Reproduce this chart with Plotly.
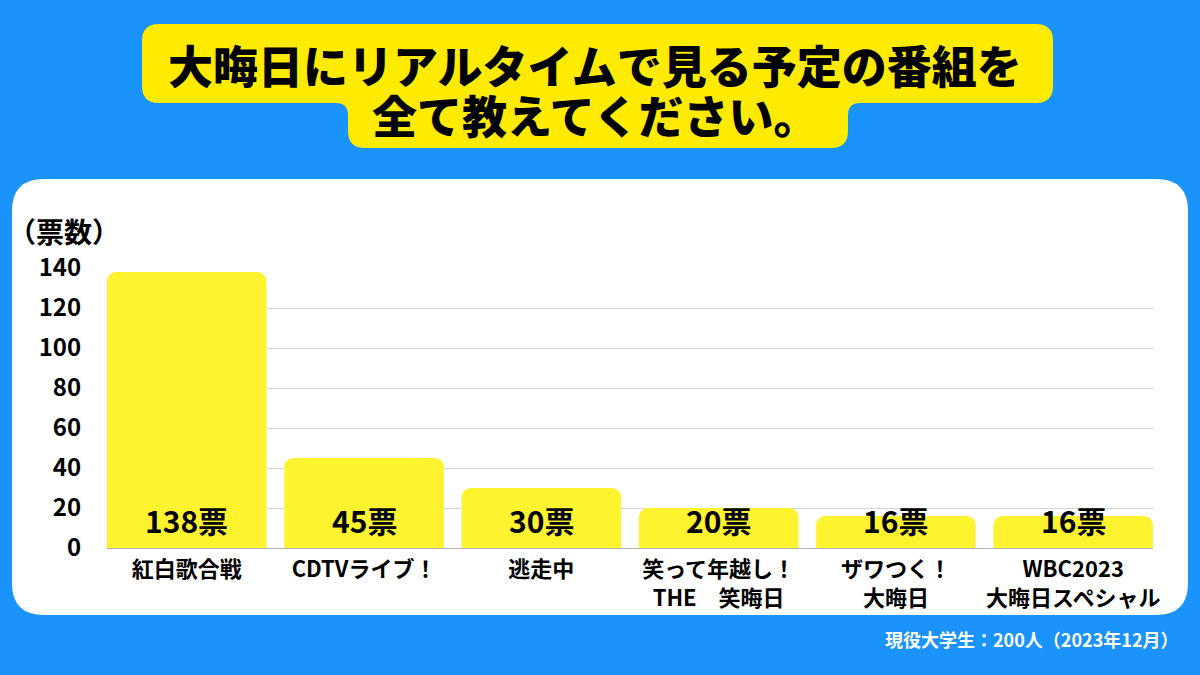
import plotly.graph_objects as go

# 大晦日にリアルタイムで見る予定の番組（複数回答）
programs = ["紅白歌合戦", "CDTVライブ！", "逃走中",
            "笑って年越し！<br>THE　笑晦日", "ザワつく！<br>大晦日",
            "WBC2023<br>大晦日スペシャル"]
votes = [138, 45, 30, 20, 16, 16]
y_ticks = [0, 20, 40, 60, 80, 100, 120, 140]

title_lines = ["大晦日にリアルタイムで見る予定の番組を", "全て教えてください。"]
y_title = "（票数）"
note = "現役大学生：200人（2023年12月）"

FONT = "Noto Sans CJK JP"
BLUE = "#1A93FD"
YELLOW_BAR = "#FFF22E"
YELLOW_TITLE = "#FFEB00"

W, H = 1200, 675
L, R, T, B = 107, 47, 268, 127
PW, PH = W - L - R, H - T - B


# pixel -> paper coords
def px(x):
    return (x - L) / PW


def py(y):
    return (T + PH - y) / PH


def path(pts):
    out = []
    for cmd, *xy in pts:
        coords = []
        for i in range(0, len(xy), 2):
            coords.append(f"{px(xy[i]):.5f},{py(xy[i + 1]):.5f}")
        out.append(cmd + " " + " ".join(coords))
    return " ".join(out) + " Z"


def round_rect(x0, y0, x1, y1, r):
    return path([
        ("M", x0 + r, y0), ("L", x1 - r, y0), ("Q", x1, y0, x1, y0 + r),
        ("L", x1, y1 - r), ("Q", x1, y1, x1 - r, y1),
        ("L", x0 + r, y1), ("Q", x0, y1, x0, y1 - r),
        ("L", x0, y0 + r), ("Q", x0, y0, x0 + r, y0),
    ])


# title box: wide top part + narrower bottom part joined with fillets
ax0, ay0, ax1, ay1 = 142, 24, 1053, 103
bx0, bx1, by1 = 348, 848, 148
r, f = 17, 12
title_path = path([
    ("M", ax0 + r, ay0), ("L", ax1 - r, ay0), ("Q", ax1, ay0, ax1, ay0 + r),
    ("L", ax1, ay1 - r), ("Q", ax1, ay1, ax1 - r, ay1),
    ("L", bx1 + f, ay1), ("Q", bx1, ay1, bx1, ay1 + f),
    ("L", bx1, by1 - r), ("Q", bx1, by1, bx1 - r, by1),
    ("L", bx0 + r, by1), ("Q", bx0, by1, bx0, by1 - r),
    ("L", bx0, ay1 + f), ("Q", bx0, ay1, bx0 - f, ay1),
    ("L", ax0 + r, ay1), ("Q", ax0, ay1, ax0, ay1 - r),
    ("L", ax0, ay0 + r), ("Q", ax0, ay0, ax0 + r, ay0),
])

fig = go.Figure(go.Bar(
    x=list(range(len(programs))), y=votes,
    marker=dict(color=YELLOW_BAR, cornerradius=9, line_width=0),
    hoverinfo="skip",
))

shapes = [
    dict(type="path", xref="paper", yref="paper", layer="below",
         path=round_rect(12, 179, 1188, 615, 32),
         fillcolor="white", line_width=0),
    dict(type="path", xref="paper", yref="paper", layer="below",
         path=title_path, fillcolor=YELLOW_TITLE, line_width=0),
]

annotations = []
for i, line in enumerate(title_lines):
    annotations.append(dict(
        text=line, xref="paper", yref="paper", x=px(595), y=py(65 + 49 * i),
        xanchor="center", yanchor="middle", showarrow=False,
        font=dict(family=FONT, size=45, color="black", weight=900)))

for i, v in enumerate(votes):
    annotations.append(dict(
        text=f"{v}票", x=i, y=0, xref="x", yref="y",
        xanchor="center", yanchor="middle", yshift=28, showarrow=False,
        font=dict(family=FONT, size=30, color="black", weight="bold")))

annotations.append(dict(
    text=y_title, xref="paper", yref="paper", x=px(64), y=py(231),
    xanchor="center", yanchor="middle", showarrow=False,
    font=dict(family=FONT, size=28, color="black", weight="bold")))

annotations.append(dict(
    text=note, xref="paper", yref="paper", x=px(1181), y=py(639),
    xanchor="right", yanchor="middle", showarrow=False,
    font=dict(family=FONT, size=18, color="white", weight="bold")))

gap = 0.1
fig.update_layout(
    width=W, height=H,
    margin=dict(l=L, r=R, t=T, b=B, pad=0),
    paper_bgcolor=BLUE, plot_bgcolor="rgba(0,0,0,0)",
    bargap=gap, showlegend=False,
    shapes=shapes, annotations=annotations,
    xaxis=dict(
        tickmode="array", tickvals=list(range(len(programs))), ticktext=programs,
        range=[-0.5 + gap / 2, len(programs) - 0.5 - gap / 2],
        showgrid=False, zeroline=False, showline=True, linecolor="#b5b5b5",
        linewidth=1, ticks="outside", ticklen=2, tickcolor="rgba(0,0,0,0)",
        tickfont=dict(family=FONT, size=22, color="black", weight="bold"),
        fixedrange=True,
    ),
    yaxis=dict(
        range=[0, 140], tickvals=y_ticks,
        showgrid=True, gridcolor="#d6d6d6", gridwidth=1, zeroline=False,
        ticks="outside", ticklen=20, tickcolor="rgba(0,0,0,0)",
        tickfont=dict(family=FONT, size=24, color="black", weight="bold"),
        fixedrange=True,
    ),
)

fig.write_html("out.html", config={"displayModeBar": False},
               post_script="document.body.style.margin='0';")
